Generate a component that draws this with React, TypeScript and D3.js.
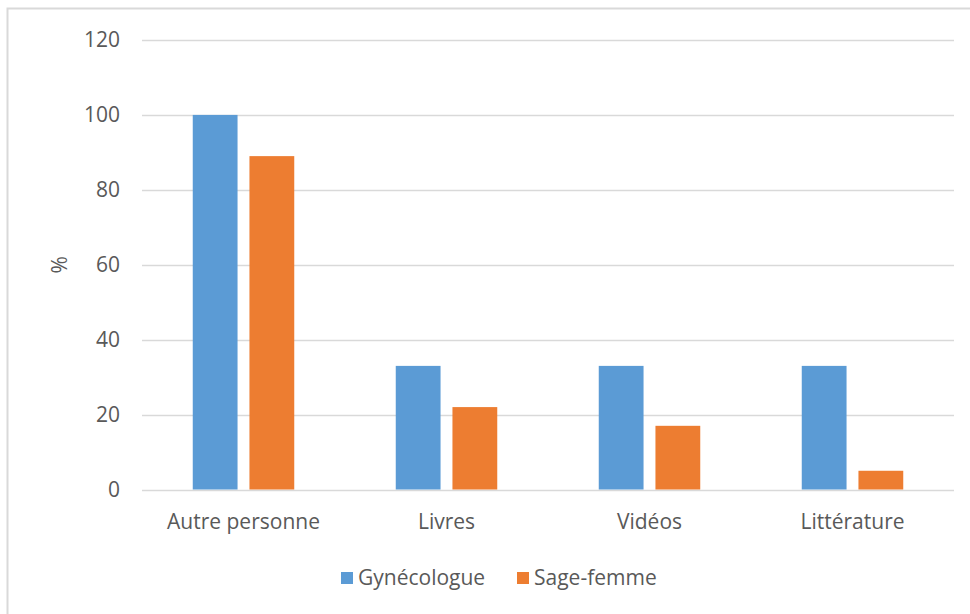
import { useEffect, useRef } from "react";
import * as d3 from "d3";

const categories = ["Autre personne", "Livres", "Vidéos", "Littérature"];
const seriesNames = ["Gynécologue", "Sage-femme"];
const gynecologue = [100, 33, 33, 33];
const sageFemme = [89, 22, 17, 5];
const yTicks = [0, 20, 40, 60, 80, 100, 120];

const colors = ["#5B9BD5", "#ED7D31"];
const textColor = "#595959";
const font = "'Open Sans', Lato, sans-serif";
const fontSize = "21px";

export default function App() {
  const svgRef = useRef<SVGSVGElement>(null);

  useEffect(() => {
    if (!svgRef.current) return;
    const svg = d3.select(svgRef.current);
    svg.selectAll("*").remove();

    const W = 970;
    const H = 614;
    const plot = { left: 142, right: 954, top: 40, bottom: 489.5 };

    // chart frame (only left and top edges fall inside the picture)
    svg.append("rect")
      .attr("x", 7.5).attr("y", 8.5)
      .attr("width", W + 20).attr("height", H + 20)
      .attr("fill", "#fff")
      .attr("stroke", "#D9D9D9")
      .attr("stroke-width", 2);

    const y = d3.scaleLinear().domain([0, 120]).range([plot.bottom, plot.top]);
    const x0 = d3.scaleBand<string>()
      .domain(categories)
      .range([plot.left, plot.right])
      .paddingInner(0.5)
      .paddingOuter(0.25);
    const x1 = d3.scaleBand<string>()
      .domain(seriesNames)
      .range([0, x0.bandwidth()])
      .paddingInner(0.21);

    // gridlines
    svg.append("g")
      .selectAll("line")
      .data(yTicks)
      .enter()
      .append("line")
      .attr("x1", plot.left).attr("x2", plot.right)
      .attr("y1", d => Math.round(y(d)) + 0.5)
      .attr("y2", d => Math.round(y(d)) + 0.5)
      .attr("stroke", "#D9D9D9")
      .attr("stroke-width", 1.3);

    // y tick labels
    svg.append("g")
      .selectAll("text")
      .data(yTicks)
      .enter()
      .append("text")
      .attr("x", 120)
      .attr("y", d => y(d))
      .attr("dy", "0.35em")
      .attr("text-anchor", "end")
      .attr("fill", textColor)
      .style("font-family", font)
      .style("font-size", fontSize)
      .text(d => d);

    // y title
    svg.append("text")
      .attr("transform", `translate(67,${(plot.top + plot.bottom) / 2}) rotate(-90)`)
      .attr("text-anchor", "middle")
      .attr("fill", textColor)
      .style("font-family", font)
      .style("font-size", fontSize)
      .text("%");

    // bars
    const seriesValues = [gynecologue, sageFemme];
    seriesNames.forEach((name, si) => {
      svg.append("g")
        .selectAll("rect")
        .data(categories)
        .enter()
        .append("rect")
        .attr("x", c => (x0(c) ?? 0) + (x1(name) ?? 0))
        .attr("width", x1.bandwidth())
        .attr("y", (c, i) => y(seriesValues[si][i]))
        .attr("height", (c, i) => plot.bottom - y(seriesValues[si][i]))
        .attr("fill", colors[si]);
    });

    // category labels
    svg.append("g")
      .selectAll("text")
      .data(categories)
      .enter()
      .append("text")
      .attr("x", c => (x0(c) ?? 0) + x0.bandwidth() / 2)
      .attr("y", 529)
      .attr("text-anchor", "middle")
      .attr("fill", textColor)
      .style("font-family", font)
      .style("font-size", fontSize)
      .text(c => c);

    // legend
    const legend = svg.append("g");
    const items = [
      { name: seriesNames[0], x: 341 },
      { name: seriesNames[1], x: 517 },
    ];
    items.forEach((it, i) => {
      legend.append("rect")
        .attr("x", it.x).attr("y", 572)
        .attr("width", 12).attr("height", 12)
        .attr("fill", colors[i]);
      legend.append("text")
        .attr("x", it.x + 17).attr("y", 578)
        .attr("dy", "0.35em")
        .attr("fill", textColor)
        .style("font-family", font)
        .style("font-size", fontSize)
        .text(it.name);
    });
  }, []);

  return (
    <svg
      ref={svgRef}
      width={970}
      height={614}
      style={{ position: "absolute", left: 0, top: 0, display: "block", background: "#fff" }}
    />
  );
}
